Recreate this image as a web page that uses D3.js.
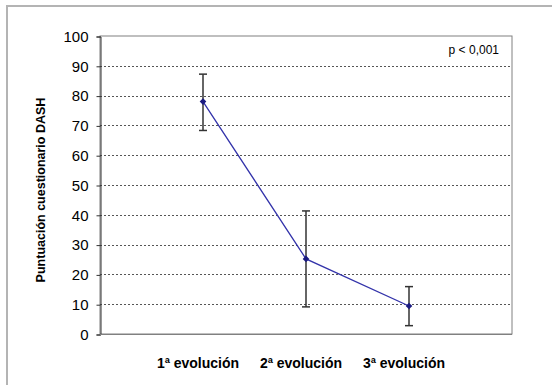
<!DOCTYPE html>
<html><head><meta charset="utf-8">
<script src="https://cdn.jsdelivr.net/npm/d3@7"></script>
<style>body{margin:0;background:#fff}svg{display:block}</style>
</head><body>
<script>
const categories = ["1ª evolución", "2ª evolución", "3ª evolución"];
const means = [78, 25.2, 9.4];
const upper = [87.2, 41.3, 15.9];
const lower = [68.3, 9.1, 2.8];
const yTicks = [0,10,20,30,40,50,60,70,80,90,100];

const W = 552, H = 385;
const svg = d3.select("body").append("svg").attr("width", W).attr("height", H);

// outer frame (top & left)
svg.append("line").attr("x1",6).attr("x2",W).attr("y1",6).attr("y2",6).attr("stroke","#b4b4b4").attr("stroke-width",2);
svg.append("line").attr("x1",7).attr("x2",7).attr("y1",5).attr("y2",H).attr("stroke","#b4b4b4").attr("stroke-width",2);

const L = 100, R = 512, T = 36, B = 334;
const x = d3.scaleLinear().domain([0, categories.length + 1]).range([L, R]);
const y = d3.scaleLinear().domain([0, 100]).range([B, T]);

// plot box
svg.append("rect").attr("x",L).attr("y",T).attr("width",R-L).attr("height",B-T)
  .attr("fill","none").attr("stroke","#808080").attr("stroke-width",1);

// gridlines
svg.append("g").selectAll("line").data(yTicks.filter(d => d > 0 && d < 100)).join("line")
  .attr("x1",L).attr("x2",R).attr("y1",d=>Math.round(y(d))+0.5).attr("y2",d=>Math.round(y(d))+0.5)
  .attr("stroke","#555").attr("stroke-width",1).attr("stroke-dasharray","2,2");

// y axis
const yAxis = d3.axisLeft(y).tickValues(yTicks).tickSize(4).tickPadding(8);
const gy = svg.append("g").attr("transform",`translate(${L+0.5},0.5)`).call(yAxis);
gy.select(".domain").attr("stroke","#333");
gy.selectAll(".tick line").attr("stroke","#333");
gy.selectAll("text").attr("font-family","Arial, Liberation Sans, sans-serif").attr("font-size",15).attr("fill","#000");

// bottom axis line
svg.append("line").attr("x1",L).attr("x2",R).attr("y1",B+0.5).attr("y2",B+0.5).attr("stroke","#808080");

// x labels
svg.append("g").selectAll("text").data(categories).join("text")
  .attr("x",(d,i)=>x(i+1)-5).attr("y",368).attr("text-anchor","middle")
  .attr("font-family","Arial, Liberation Sans, sans-serif").attr("font-size",14).attr("font-weight","bold")
  .text(d=>d);

// y title
svg.append("text").attr("transform",`translate(45,${(T+B)/2+5}) rotate(-90)`).attr("text-anchor","middle")
  .attr("font-family","Arial, Liberation Sans, sans-serif").attr("font-size",12.5).attr("font-weight","bold")
  .text("Puntuación cuestionario DASH");

// p value
svg.append("text").attr("x",499).attr("y",54).attr("text-anchor","end")
  .attr("font-family","Arial, Liberation Sans, sans-serif").attr("font-size",12)
  .text("p < 0,001");

// error bars
const eg = svg.append("g").attr("stroke","#333").attr("stroke-width",1.5);
categories.forEach((c,i)=>{
  const cx = x(i+1);
  eg.append("line").attr("x1",cx).attr("x2",cx).attr("y1",y(upper[i])).attr("y2",y(lower[i]));
  eg.append("line").attr("x1",cx-4).attr("x2",cx+4).attr("y1",y(upper[i])).attr("y2",y(upper[i]));
  eg.append("line").attr("x1",cx-4).attr("x2",cx+4).attr("y1",y(lower[i])).attr("y2",y(lower[i]));
});

// line
const line = d3.line().x((d,i)=>x(i+1)).y(d=>y(d));
svg.append("path").datum(means).attr("d",line).attr("fill","none").attr("stroke","#3333aa").attr("stroke-width",1.3);

// markers (diamonds)
svg.append("g").selectAll("path").data(means).join("path")
  .attr("transform",(d,i)=>`translate(${x(i+1)},${y(d)}) rotate(45)`)
  .attr("d",d3.symbol().type(d3.symbolSquare).size(22))
  .attr("fill","#1a1a80");
</script>
</body></html>
